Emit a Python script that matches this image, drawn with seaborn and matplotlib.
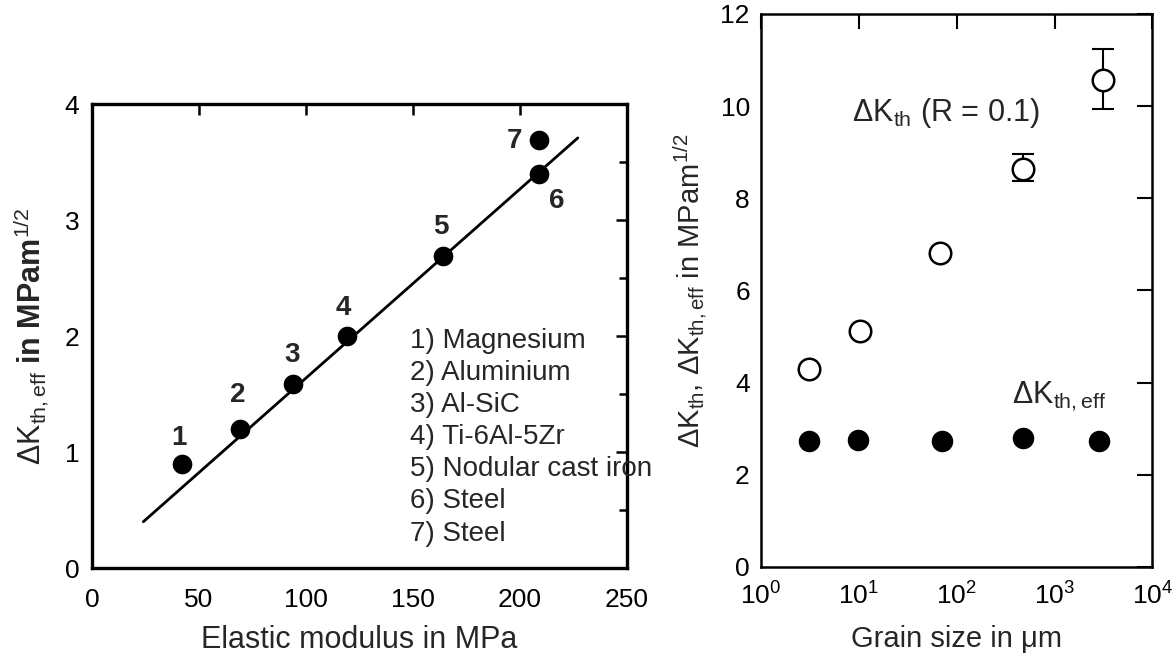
import numpy as np
import pandas as pd
import matplotlib
matplotlib.use("Agg")
import matplotlib.pyplot as plt
import seaborn as sns
from matplotlib.ticker import MultipleLocator, LogLocator, LogFormatterSciNotation, NullLocator

# ---------------- data ----------------
# left panel: effective threshold vs elastic modulus
mat_ids = ["1", "2", "3", "4", "5", "6", "7"]
modulus = [42, 69, 94, 119, 164, 209, 209]
dk_eff_left = [0.90, 1.20, 1.59, 2.00, 2.69, 3.40, 3.69]
fit_x = [24, 227]
fit_y = [0.40, 3.71]
materials = ["1) Magnesium", "2) Aluminium", "3) Al-SiC", "4) Ti-6Al-5Zr",
             "5) Nodular cast iron", "6) Steel", "7) Steel"]

# right panel: thresholds vs grain size
grain_open = [3.1, 10.2, 68, 480, 3090]
dk_th = [4.30, 5.12, 6.81, 8.64, 10.56]
err_low = [0.0, 0.0, 0.0, 0.27, 0.63]
err_high = [0.0, 0.0, 0.0, 0.32, 0.69]
grain_fill = [3.1, 9.8, 70, 480, 2840]
dk_th_eff = [2.74, 2.75, 2.74, 2.79, 2.73]

# ---------------- style ----------------
sns.set_theme(style="white")
plt.rcParams["font.family"] = ["Liberation Sans", "DejaVu Sans"]
plt.rcParams["mathtext.fontset"] = "custom"
plt.rcParams["mathtext.rm"] = "Liberation Sans"
plt.rcParams["mathtext.it"] = "Liberation Sans"
plt.rcParams["mathtext.bf"] = "Liberation Sans:bold"
plt.rcParams["axes.edgecolor"] = "black"

fig = plt.figure(figsize=(11.76, 6.56), dpi=100)
ax1 = fig.add_axes([0.0782, 0.134, 0.455, 0.707])
ax2 = fig.add_axes([0.647, 0.1357, 0.333, 0.843])

left_df = pd.DataFrame({"modulus": modulus, "dk": dk_eff_left, "id": mat_ids})
fit_df = pd.DataFrame({"x": fit_x, "y": fit_y})

sns.lineplot(data=fit_df, x="x", y="y", ax=ax1, color="black", lw=2.0)
sns.scatterplot(data=left_df, x="modulus", y="dk", ax=ax1, color="black",
                s=200, edgecolor="black", linewidth=0, zorder=3)

label_pos = {"1": (40.7, 1.12), "2": (67.9, 1.49), "3": (93.4, 1.84),
             "4": (117.6, 2.24), "5": (163.2, 2.94), "6": (217.2, 3.17),
             "7": (197.5, 3.68)}
for k in mat_ids:
    x, y = label_pos[k]
    ax1.text(x, y, k, fontsize=20, fontweight="bold", ha="center", va="center")

for i, m in enumerate(materials):
    ax1.text(148.4, 1.96 - i * 0.277, m, fontsize=20, ha="left", va="center",
             clip_on=False)

ax1.set_xlim(0, 250)
ax1.set_ylim(0, 4)
ax1.xaxis.set_major_locator(MultipleLocator(50))
ax1.yaxis.set_major_locator(MultipleLocator(1))
ax1.yaxis.set_minor_locator(MultipleLocator(0.5))
ax1.tick_params(which="both", direction="in", top=True, right=True,
                width=1.8, colors="black", labelsize=19)
ax1.tick_params(which="major", length=8)
ax1.tick_params(which="minor", length=6)
ax1.tick_params(axis="x", pad=14)
ax1.tick_params(axis="y", pad=9)
for sp in ax1.spines.values():
    sp.set_linewidth(2.4)
ax1.set_xlabel("Elastic modulus in MPa", fontsize=22, labelpad=10)
ax1.set_ylabel(r"$\Delta\mathrm{K}_{\mathrm{th,eff}}$ $\mathbf{in\ MPam}^{\mathrm{1/2}}$",
               fontsize=22, labelpad=10)

# right panel
open_df = pd.DataFrame({"g": grain_open, "dk": dk_th})
fill_df = pd.DataFrame({"g": grain_fill, "dk": dk_th_eff})

ax2.errorbar(grain_open, dk_th, yerr=[err_low, err_high], fmt="none",
             ecolor="black", elinewidth=1.5, capsize=8, capthick=1.5, zorder=2)
sns.scatterplot(data=open_df, x="g", y="dk", ax=ax2, marker="o", s=240,
                facecolor="white", edgecolor="black", linewidth=1.8, zorder=3)
sns.scatterplot(data=fill_df, x="g", y="dk", ax=ax2, marker="o", s=240,
                color="black", edgecolor="black", linewidth=0, zorder=3)

ax2.set_xscale("log")
ax2.set_xlim(1, 1e4)
ax2.set_ylim(0, 12)
ax2.xaxis.set_major_locator(LogLocator(base=10, numticks=10))
ax2.xaxis.set_major_formatter(LogFormatterSciNotation())
ax2.xaxis.set_minor_locator(NullLocator())
ax2.yaxis.set_major_locator(MultipleLocator(2))
ax2.tick_params(which="both", direction="in", top=True, right=True,
                width=1.5, length=11, colors="black", labelsize=19)
ax2.tick_params(axis="x", pad=11)
ax2.tick_params(axis="y", pad=8)
for sp in ax2.spines.values():
    sp.set_linewidth(1.8)

ax2.text(8.6, 9.68, r"$\Delta\mathrm{K}_{\mathrm{th}}$ (R = 0.1)", fontsize=22,
         ha="left", va="baseline")
ax2.text(367, 3.56, r"$\Delta\mathrm{K}_{\mathrm{th,eff}}$", fontsize=22,
         ha="left", va="baseline")

ax2.set_xlabel("Grain size in μm", fontsize=21, labelpad=11)
ax2.set_ylabel(r"$\Delta\mathrm{K}_{\mathrm{th}}$, $\Delta\mathrm{K}_{\mathrm{th,eff}}$ in MPam$^{\mathrm{1/2}}$",
               fontsize=21, labelpad=8)

fig.savefig("out.png", dpi=100)
